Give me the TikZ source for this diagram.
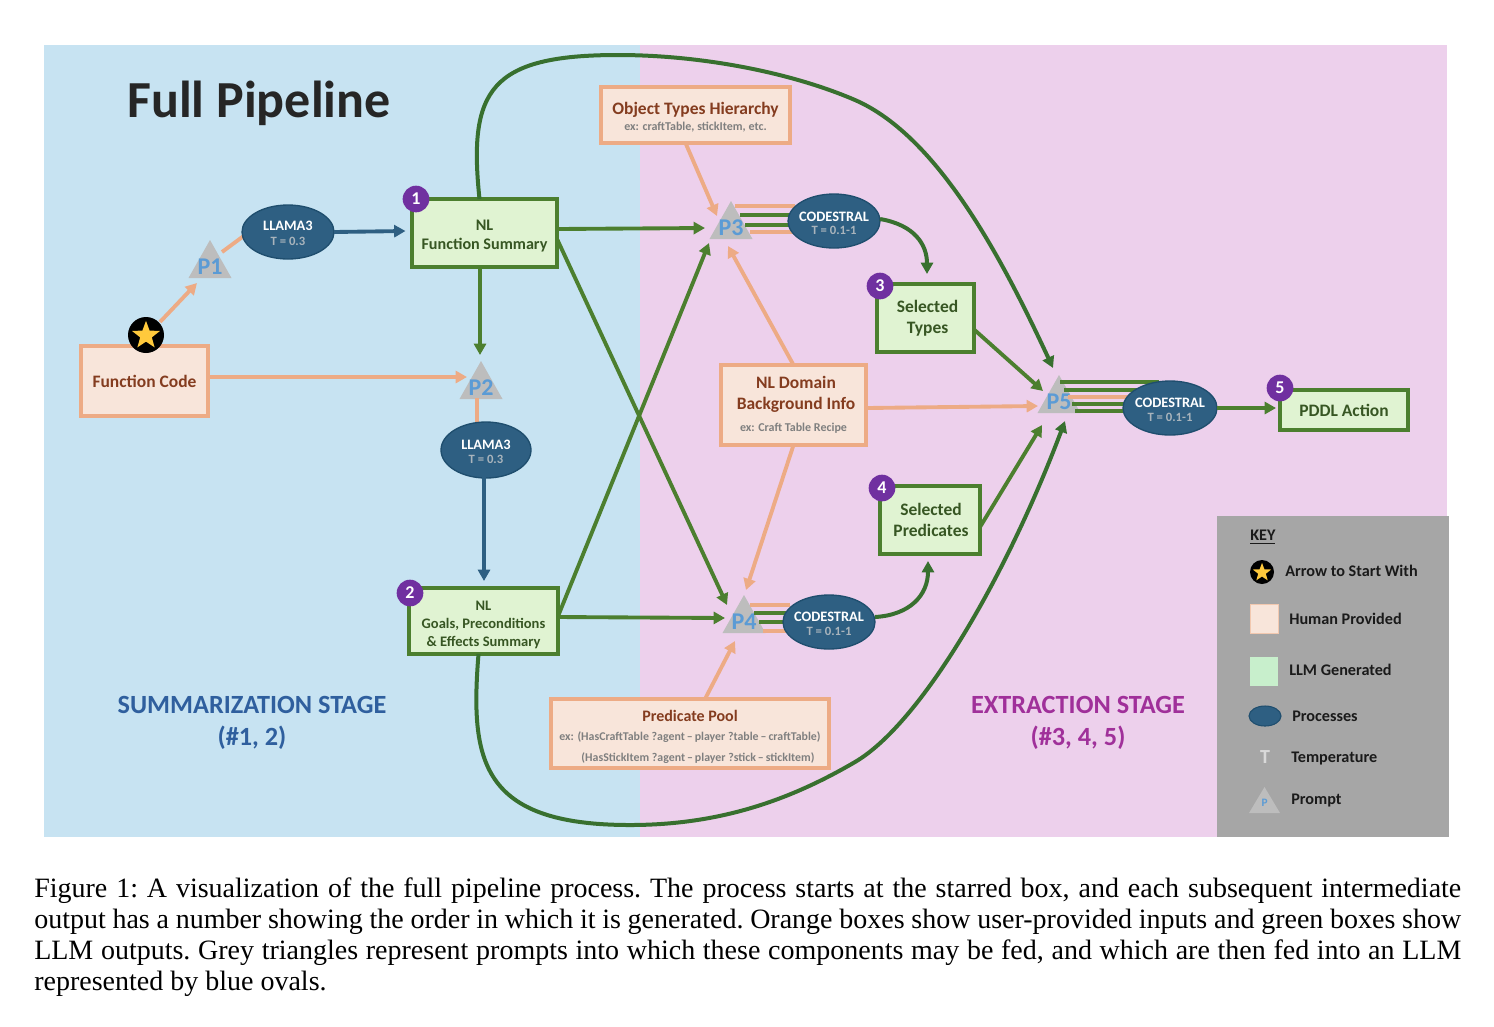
\documentclass[tikz,border=0pt]{standalone}
\usepackage{fontspec}
\setmainfont{Liberation Serif}
\newfontfamily\dia{Carlito}
\usetikzlibrary{shapes.geometric,shapes.misc,arrows.meta,calc}
\definecolor{bluebg}{HTML}{C7E3F2}
\definecolor{pinkbg}{HTML}{EDD0EC}
\definecolor{keygrey}{HTML}{A6A6A6}
\definecolor{orfill}{HTML}{F8E5DA}
\definecolor{orline}{HTML}{EDAB85}
\definecolor{ortext}{HTML}{843C1F}
\definecolor{grfill}{HTML}{E0F3D2}
\definecolor{grline}{HTML}{4C7F2F}
\definecolor{grdark}{HTML}{38702F}
\definecolor{grtext}{HTML}{375623}
\definecolor{ovfill}{HTML}{2E5F82}
\definecolor{ovline}{HTML}{1F4E6E}
\definecolor{purp}{HTML}{7030A0}
\definecolor{triang}{HTML}{BDBDBD}
\definecolor{ptext}{HTML}{5B9BD5}
\definecolor{subgrey}{HTML}{7F7F7F}
\definecolor{tgrey}{HTML}{A9B4BC}
\definecolor{sumblue}{HTML}{2F5F9E}
\definecolor{extpurp}{HTML}{A0309A}
\definecolor{keytext}{HTML}{1A1A1A}
\definecolor{staryel}{HTML}{FFC93C}
\definecolor{llmkey}{HTML}{C8EFCC}
\newcommand\fs[2]{\fontsize{#1}{#2}\selectfont}
\newcommand\exfont{\mdseries\bfseries\fs{9}{11}\color{subgrey}}
\newcommand\tfont{\bfseries\fs{9.5}{10}\color{tgrey}}
\tikzset{
  sz/.style 2 args={minimum width=#1*.75pt,minimum height=#2*.75pt},
  obox/.style={draw=orline,fill=orfill,line width=2.7pt,inner sep=0pt,align=center,text=ortext,font=\dia\bfseries\fs{13.1}{15.5}},
  gbox/.style={draw=grline,fill=grfill,line width=2.7pt,inner sep=0pt,align=center,text=grtext,font=\dia\bfseries\fs{13.1}{15.5}},
  oval/.style={ellipse,draw=ovline,fill=ovfill,line width=1pt,inner xsep=-14pt,inner ysep=-6pt,align=center,text=white,font=\dia\bfseries\fs{10.8}{12}},
  badge/.style={circle,fill=purp,text=white,minimum size=20pt,inner sep=0pt,font=\dia\bfseries\fs{13.5}{13.5}},
  ptxt/.style={text=ptext,font=\dia\bfseries\fs{18}{18},inner sep=0pt},
  keylab/.style={anchor=west,inner sep=0pt,text=keytext,font=\dia\bfseries\fs{12.15}{13}},
  stage/.style={align=center,inner sep=0pt,font=\dia\bfseries\fs{19.7}{24}},
  oa/.style={draw=orline,line width=2.9pt,-{Triangle[length=8.5pt,width=9pt]}},
  ol/.style={draw=orline,line width=2.9pt},
  ga/.style={draw=grline,line width=2.9pt,-{Triangle[length=8.5pt,width=9pt]}},
  gc/.style={draw=grdark,line width=3pt,-{Triangle[length=8.5pt,width=9pt]}},
  gl/.style={draw=grline,line width=2.9pt},
  ba/.style={draw=ovfill,line width=2.9pt,-{Triangle[length=8.5pt,width=9pt]}},
}
\newcommand\prompt[3]{%
  \fill[triang] (#2-21.5,#3+11) -- (#2,#3-27) -- (#2+21.5,#3+11) -- cycle;
  \node[ptxt] (#1) at (#2,#3) {\MakeUppercase{#1}};}
\begin{document}
\begin{tikzpicture}[x=.75pt,y=-.75pt]
\useasboundingbox (0,0) rectangle (1494,1026);
\fill[white] (0,0) rectangle (1494,1026);
\fill[bluebg] (44,45) rectangle (640,837);
\fill[pinkbg] (640,45) rectangle (1447,837);

\node[anchor=center,inner sep=0pt,text=black!85,font=\dia\bfseries\fs{39}{42}] (title) at (259,103) {Full Pipeline};

% boxes
\node[obox,sz={127}{70}] (fc) at (144.5,381) {Function Code};
\node[gbox,sz={145}{68},font=\dia\bfseries\fs{12.1}{14.5}] (fsum) at (484.5,233) {\rule{0pt}{12pt}NL\\Function Summary};
\node[gbox,sz={149}{66},font=\dia\bfseries\fs{10.9}{13.2}] (gs) at (483.5,621) {\rule{0pt}{13pt}NL\\Goals, Preconditions\\\&\ Effects Summary};
\node[obox,sz={189}{56}] (ot) at (695.5,115) {\rule{0pt}{12.5pt}Object Types Hierarchy\\[-3pt]{\exfont ex: craftTable, stickItem, etc.}};
\node[gbox,sz={97}{68}] (st) at (925.5,318) {\hspace*{3pt}Selected\\\hspace*{3pt}Types};
\node[obox,sz={145}{80}] (nd) at (793.5,405) {\hspace*{3.75pt}NL Domain\\\hspace*{3.75pt}Background Info\\[1pt]{\exfont ex: Craft Table Recipe}};
\node[gbox,sz={100}{68}] (sp) at (930,520) {\hspace*{1.5pt}Selected\\\hspace*{1.5pt}Predicates};
\node[obox,sz={278}{69}] (pp) at (690,733.5) {\rule{0pt}{13pt}\fs{12}{15}Predicate Pool\\[-1pt]{\fs{8.9}{11.5}\color{subgrey}ex: (HasCraftTable ?agent\,–\,player ?table\,–\,craftTable)}\\{\fs{8.9}{11.5}\color{subgrey}\hspace*{12pt}(HasStickItem ?agent\,–\,player ?stick\,–\,stickItem)}};
\node[gbox,sz={128}{40}] (pa) at (1344,410) {PDDL Action};

% prompts
\prompt{p1}{210}{267}
\prompt{p2}{481}{388}
\prompt{p3}{731}{228}
\prompt{p4}{744}{622}
\prompt{p5}{1059}{402}

% star
\node[circle,fill=black,minimum size=27pt,inner sep=0pt] (startc) at (146,335) {};
\node[star,star points=5,star point ratio=2.4,fill=staryel,minimum size=22pt,inner sep=0pt] (startstar) at (146,335.5) {};

% parallel feeds under ovals
\draw[ol] ($(p3)+(4,-22)$) -- ($(p3)+(64,-22)$);
\draw[gl] ($(p3)+(9,-13)$) -- ($(p3)+(60,-13)$);
\draw[gl] ($(p3)+(14,-3)$) -- ($(p3)+(60,-3)$);
\draw[ol] ($(p3)+(19,4)$) -- ($(p3)+(64,4)$);
\draw[ol] ($(p4)+(6,-17)$) -- ($(p4)+(46,-17)$);
\draw[gl] ($(p4)+(10,-9)$) -- ($(p4)+(46,-9)$);
\draw[gl] ($(p4)+(15,0)$) -- ($(p4)+(46,0)$);
\draw[ol] ($(p4)+(19,9)$) -- ($(p4)+(46,9)$);
\draw[gl] ($(p5)+(1,-20)$) -- ($(p5)+(100,-20)$);
\draw[gl] ($(p5)+(5,-12)$) -- ($(p5)+(90,-12)$);
\draw[ol] ($(p5)+(9,-5)$) -- ($(p5)+(80,-5)$);
\draw[gl] ($(p5)+(13,2)$) -- ($(p5)+(80,2)$);
\draw[gl] ($(p5)+(16,9)$) -- ($(p5)+(80,9)$);
\draw[ol] ($(p1)+(12,-15)$) -- (245,235);
\draw[ol] ($(p2)+(-4,10)$) -- (477,425);

% ovals
\node[oval,sz={92}{54}] (l1) at (288,232) {\rule{0pt}{9pt}LLAMA3\\[-1pt]{\tfont T = 0.3}};
\node[oval,sz={90}{56}] (l2) at (486,450) {\rule{0pt}{10pt}LLAMA3\\[-1pt]{\tfont T = 0.3}};
\node[oval,sz={92}{54}] (c3) at (834,221) {\rule{0pt}{11pt}CODESTRAL\\[-2pt]{\tfont T = 0.1-1}};
\node[oval,sz={92}{54}] (c4) at (829,622) {\rule{0pt}{10pt}CODESTRAL\\[-2pt]{\tfont T = 0.1-1}};
\node[oval,sz={94}{54}] (c5) at (1170,408) {\rule{0pt}{10pt}CODESTRAL\\[-2pt]{\tfont T = 0.1-1}};

% badges
\node[badge] (b1) at (416,199) {1};
\node[badge] (b2) at (410,593) {2};
\node[badge] (b3) at (880,286) {3};
\node[badge] (b4) at (882,488) {4};
\node[badge] (b5) at (1280,388) {5};

% connectors
\draw[oa] ($(startc)+(14,-13)$) -- ($(p1)+(-13,16)$);
\draw[oa] ($(fc)+(64,-4)$) -- ($(p2)+(-14,-11)$);
\draw[ba] ($(l1)+(46,0)$) -- ($(fsum)+(-79,-2)$);
\draw[ga] ($(fsum)+(-4.5,34)$) -- ($(p2)+(-1,-33)$);
\draw[ba] ($(l2)+(-2,27)$) -- ($(gs)+(0.5,-40)$);
\draw[ga] ($(fsum)+(73,-4)$) -- ($(p3)+(-26,0)$);
\draw[ga] ($(fsum)+(73,7)$) -- ($(p4)+(-17,-17)$);
\draw[ga] ($(gs)+(75,-6)$) -- ($(p3)+(-22,15)$);
\draw[ga] ($(gs)+(75,-4)$) -- ($(p4)+(-19,-4)$);
\draw[oa] ($(ot)+(-10,28)$) -- ($(p3)+(-14,-12)$);
\draw[oa] ($(nd)+(0,-40)$) -- ($(p3)+(-3,18)$);
\draw[oa] ($(nd)+(73,3)$) -- ($(p5)+(-21,4)$);
\draw[oa] ($(nd)+(0,40)$) -- ($(p4)+(2,-32)$);
\draw[oa] ($(pp)+(15,-34.5)$) -- ($(p4)+(-9,19)$);
\draw[gc] ($(c3)+(46,-2)$) .. controls (915,225) and (927,245) .. ($(st)+(1.5,-44)$);
\draw[gc] ($(c4)+(46,-5)$) .. controls (910,615) and (928,595) .. ($(sp)+(-2,41)$);
\draw[ga] ($(st)+(48,11)$) -- ($(p5)+(-16,-11)$);
\draw[ga] ($(sp)+(50,7)$) -- ($(p5)+(-17,23)$);
\draw[ga] ($(c5)+(47,0)$) -- ($(pa)+(-68,-2)$);
\draw[gc] ($(fsum)+(-5,-34)$) .. controls (468,90) and (490,55) .. (618,55) .. controls (700,55) and (790,72) .. (855,100) .. controls (940,137) and (1005,265) .. ($(p5)+(-6,-34)$);
\draw[gc] ($(gs)+(-5,33)$) .. controls (470,760) and (480,825) .. (630,825) .. controls (720,825) and (790,800) .. (855,762) .. controls (920,724) and (1005,580) .. ($(p5)+(6,19)$);

% stage labels
\node[stage,text=sumblue] (sumst) at (252,723) {SUMMARIZATION STAGE\\(\#1, 2)};
\node[stage,text=extpurp] (extst) at (1078,723) {EXTRACTION STAGE\\(\#3, 4, 5)};

% key
\fill[keygrey] (1217,516) rectangle (1449,837);
\node[keylab] (k0) at (1250,537) {\underline{KEY}};
\node[circle,fill=black,minimum size=18pt,inner sep=0pt] (ks) at (1262,572) {};
\node[star,star points=5,star point ratio=2.4,fill=staryel,minimum size=14.5pt,inner sep=0pt] (ks2) at (1262,572.5) {};
\node[keylab] (k1) at (1285,571) {Arrow to Start With};
\node[fill=orfill,draw=orline!50!orfill,line width=.4pt,sz={28}{29},inner sep=0pt] (kh) at (1264,618.5) {};
\node[keylab] (k2) at (1289,619) {Human Provided};
\node[fill=llmkey,sz={28}{29},inner sep=0pt] (kl) at (1264,671.5) {};
\node[keylab] (k3) at (1289,670) {LLM Generated};
\node[ellipse,fill=ovfill,draw=ovline,line width=.8pt,sz={32}{20},inner sep=0pt] (kp) at (1265,716) {};
\node[keylab] (k4) at (1292,716) {Processes};
\node[inner sep=0pt,text=white!85!black,font=\dia\bfseries\fs{15}{15}] (kt) at (1265,757) {T};
\node[keylab] (k5) at (1291,759) {Temperature};
\fill[triang] (1249,813) -- (1264.5,787) -- (1280,813) -- cycle;
\node[inner sep=0pt,text=ptext,font=\dia\bfseries\fs{8.5}{9}] (kpp) at (1264.5,803) {P};
\node[keylab] (k6) at (1291,801) {Prompt};

% caption
\node[anchor=north west,inner sep=0pt,text width=1070.25pt,align=justify,text=black,font=\frenchspacing\fs{21}{23.25}] (cap) at (34,877) {Figure 1: A visualization of the full pipeline process. The process starts at the starred box, and each subsequent intermediate\linebreak output has a number showing the order in which it is generated. Orange boxes show user-provided inputs and green boxes show\linebreak LLM outputs. Grey triangles represent prompts into which these components may be fed, and which are then fed into an LLM\linebreak represented by blue ovals.};
\end{tikzpicture}
\end{document}
